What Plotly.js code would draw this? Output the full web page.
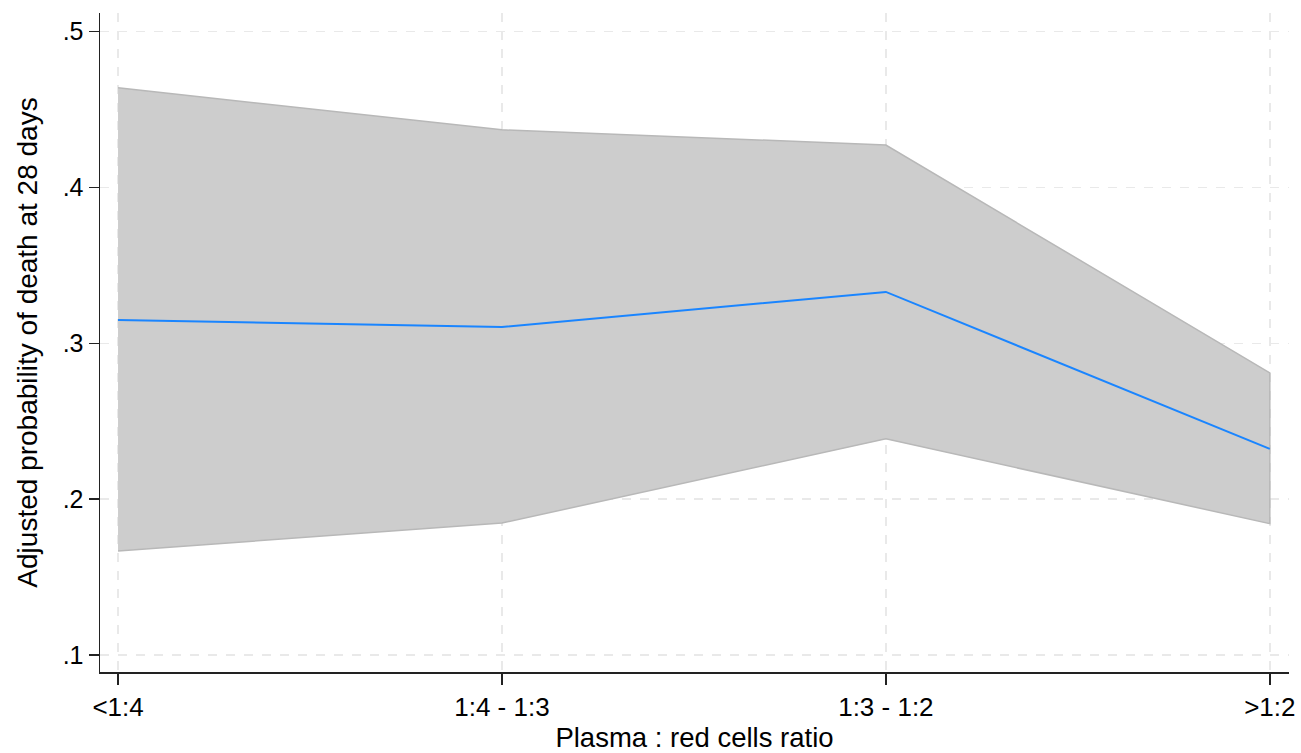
<!DOCTYPE html>
<html>
<head>
<meta charset="utf-8">
<script src="https://cdn.plot.ly/plotly-3.0.1.min.js"></script>
<style>html,body{margin:0;padding:0;background:#fff;}#chart{width:1301px;height:753px;}</style>
</head>
<body>
<div id="chart"></div>
<script>
const categories = ["<1:4", "1:4 - 1:3", "1:3 - 1:2", ">1:2"];
const estimate = [0.315, 0.3105, 0.333, 0.2323];
const upperCI = [0.464, 0.437, 0.4273, 0.281];
const lowerCI = [0.1668, 0.1847, 0.2387, 0.1843];
const yTickVals = [0.1, 0.2, 0.3, 0.4, 0.5];
const yTickText = [".1", ".2", ".3", ".4", ".5"];

const xIdx = categories.map((c, i) => i);

const traces = [
  {
    x: xIdx.concat(xIdx.slice().reverse()),
    y: upperCI.concat(lowerCI.slice().reverse()),
    type: "scatter",
    mode: "lines",
    fill: "toself",
    fillcolor: "#cdcdcd",
    line: {color: "#b8b8b8", width: 1.5},
    hoverinfo: "skip",
    showlegend: false
  },
  {
    x: xIdx,
    y: estimate,
    type: "scatter",
    mode: "lines",
    line: {color: "#1a85ff", width: 2},
    showlegend: false
  }
];

const font = {family: "Liberation Sans, Arial, sans-serif", color: "#000"};

const layout = {
  width: 1301,
  height: 753,
  margin: {l: 100, r: 12, t: 13, b: 81},
  paper_bgcolor: "#fff",
  plot_bgcolor: "#fff",
  showlegend: false,
  xaxis: {
    range: [-0.047, 3.05],
    tickvals: xIdx,
    ticktext: categories,
    ticks: "outside",
    ticklen: 11,
    tickwidth: 1.5,
    tickcolor: "#222",
    showline: true,
    linecolor: "#222",
    linewidth: 1.5,
    showgrid: true,
    gridcolor: "#e9e9e9",
    griddash: "dash",
    gridwidth: 1.5,
    zeroline: false,
    automargin: false,
    tickfont: Object.assign({size: 26}, font),
    title: {text: "Plasma : red cells ratio", font: Object.assign({size: 27.5}, font), standoff: 9}
  },
  yaxis: {
    range: [0.0891, 0.512],
    tickvals: yTickVals,
    ticktext: yTickText,
    ticks: "outside",
    ticklen: 10,
    tickwidth: 1.5,
    tickcolor: "#222",
    showline: true,
    linecolor: "#222",
    linewidth: 1.5,
    showgrid: true,
    gridcolor: "#e9e9e9",
    griddash: "dash",
    gridwidth: 1.5,
    zeroline: false,
    automargin: false,
    tickfont: Object.assign({size: 25}, font),
    title: {text: "Adjusted probability of death at 28 days", font: Object.assign({size: 28}, font), standoff: 17}
  }
};

Plotly.newPlot("chart", traces, layout, {displayModeBar: false, staticPlot: true});
</script>
</body>
</html>
